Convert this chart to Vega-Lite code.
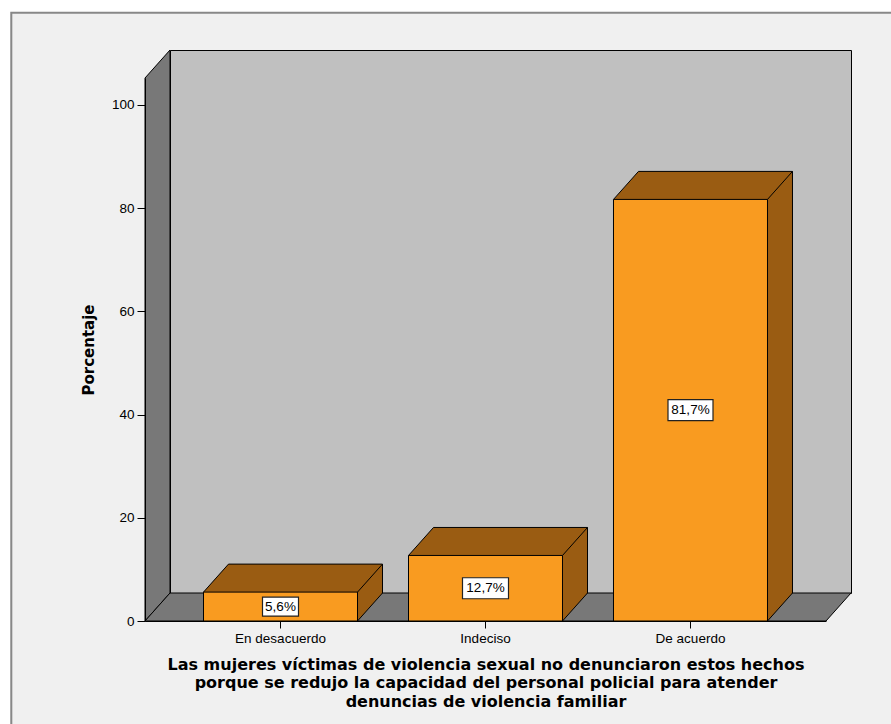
{
  "$schema": "https://vega.github.io/schema/vega-lite/v6.json",
  "width": 681,
  "height": 543,
  "autosize": {"type": "none"},
  "padding": {"left": 170, "top": 50, "right": 40, "bottom": 131},
  "background": "#f0f0f0",
  "config": {
    "font": "Liberation Sans",
    "view": {"fill": "#c0c0c0", "stroke": "#000000", "strokeWidth": 1},
    "locale": {"number": {"decimal": ",", "thousands": ".", "grouping": [3], "currency": ["", "%"]}}
  },
  "resolve": {"scale": {"y": "independent"}},
  "layer": [
    {
      "data": {"values": [{"elemento": "margen"}]},
      "mark": {"type": "point", "shape": "M-511,-322H381V-309.5H-500.5V403H-511Z", "size": 4, "filled": true, "fill": "#ffffff", "stroke": null, "opacity": 1}
    },
    {
      "data": {"values": [{"elemento": "borde"}]},
      "mark": {"type": "point", "shape": "M-499.2,403V-308.7H381", "size": 4, "filled": false, "stroke": "#888888", "strokeWidth": 2, "opacity": 1}
    },
    {
      "data": {"values": [{"elemento": "pared izquierda"}]},
      "mark": {"type": "point", "shape": "M-365.5,-243.5L-340.5,-271.5L-340.5,271.5L-365.5,299.5Z", "size": 4, "filled": true, "fill": "#787878", "stroke": "#000000", "strokeWidth": 1, "opacity": 1}
    },
    {
      "data": {"values": [{"elemento": "suelo"}]},
      "mark": {"type": "point", "shape": "M-365.5,299.5L-340.5,271.5L340.5,271.5L315.5,299.5Z", "size": 4, "filled": true, "fill": "#787878", "stroke": "#000000", "strokeWidth": 1, "opacity": 1}
    },
    {
      "data": {"values": [
        {"categoria": "En desacuerdo", "porcentaje": 5.6},
        {"categoria": "Indeciso", "porcentaje": 12.7},
        {"categoria": "De acuerdo", "porcentaje": 81.7}
      ]},
      "encoding": {
        "x": {
          "field": "categoria", "type": "nominal",
          "sort": ["En desacuerdo", "Indeciso", "De acuerdo"],
          "scale": {"range": [-25, 656], "paddingInner": 0.24878, "paddingOuter": 0.28537},
          "axis": {
            "title": ["Las mujeres víctimas de violencia sexual no denunciaron estos hechos", "porque se redujo la capacidad del personal policial para atender", "denuncias de violencia familiar"],
            "labelAngle": 0, "offset": 28, "tickSize": 7, "labelPadding": 3,
            "labelFontSize": 13.5, "labelColor": "#000000", "tickColor": "#000000", "domainColor": "#000000",
            "titleFont": "DejaVu Sans", "titleFontSize": 16, "titleFontWeight": "bold", "titleLineHeight": 18.7,
            "titleColor": "#000000", "titleY": 35, "titleBaseline": "top", "zindex": 1
          }
        },
        "y": {
          "field": "porcentaje", "type": "quantitative",
          "scale": {"domain": [0, 105.23], "range": [571, 28], "nice": false},
          "axis": {
            "title": "Porcentaje", "values": [0, 20, 40, 60, 80, 100], "offset": 25, "tickSize": 8,
            "labelPadding": 3, "labelFontSize": 13.5, "labelColor": "#000000", "tickColor": "#000000",
            "domainColor": "#000000", "grid": false,
            "titleFont": "DejaVu Sans", "titleFontSize": 15, "titleFontWeight": "bold", "titleColor": "#000000",
            "titleX": -57, "titleBaseline": "middle", "zindex": 1
          }
        }
      },
      "layer": [
        {"mark": {"type": "bar", "fill": "#9a5c12", "xOffset": 25, "yOffset": -28, "y2Offset": -28}},
        {"mark": {"type": "point", "shape": "M-77,0L-52,-28L-50,-28L-50,2L-77,2Z", "size": 4, "filled": true, "fill": "#9a5c12", "stroke": null, "opacity": 1}},
        {"mark": {"type": "point", "shape": "M77,0L102,-28L102,-30L74,-30L74,0Z", "size": 4, "filled": true, "fill": "#9a5c12", "stroke": null, "opacity": 1},
         "encoding": {"y": {"datum": 0}}},
        {"mark": {"type": "bar", "fill": "#f99b20", "stroke": "#000000", "strokeWidth": 1}},
        {"mark": {"type": "point", "shape": "M-77,0L-52,-28L102,-28L77,0", "size": 4, "filled": false, "stroke": "#000000", "strokeWidth": 1, "opacity": 1}},
        {"mark": {"type": "point", "shape": "M77,0L102,-28", "size": 4, "filled": false, "stroke": "#000000", "strokeWidth": 1, "opacity": 1},
         "encoding": {"y": {"datum": 0}}},
        {"mark": {"type": "rule", "stroke": "#000000", "strokeWidth": 1, "xOffset": 102, "yOffset": -28, "y2Offset": -28},
         "encoding": {"y2": {"datum": 0}}}
      ]
    },
    {
      "data": {"values": [
        {"categoria": "En desacuerdo", "porcentaje": 5.6},
        {"categoria": "Indeciso", "porcentaje": 12.7},
        {"categoria": "De acuerdo", "porcentaje": 81.7}
      ]},
      "encoding": {
        "x": {"field": "categoria", "type": "nominal", "sort": ["En desacuerdo", "Indeciso", "De acuerdo"]},
        "y": {"field": "porcentaje", "type": "quantitative", "scale": {"domain": [0, 210.46], "range": [571, 28], "nice": false}, "axis": null}
      },
      "layer": [
        {"mark": {"type": "point", "size": 4, "filled": true, "fill": "#ffffff", "stroke": "#222222", "strokeWidth": 1.2, "opacity": 1},
         "encoding": {"shape": {"field": "categoria", "type": "nominal",
           "scale": {"domain": ["En desacuerdo", "Indeciso", "De acuerdo"], "range": ["M-18,-9.5H18V9.5H-18Z", "M-23,-10.5H23V10.5H-23Z", "M-22.5,-10.5H22.5V10.5H-22.5Z"]},
           "legend": null}}},
        {"mark": {"type": "text", "fontSize": 13.5, "color": "#000000", "baseline": "middle", "align": "center"},
         "encoding": {"text": {"field": "porcentaje", "type": "quantitative", "format": "$.1f"}}}
      ]
    }
  ]
}
